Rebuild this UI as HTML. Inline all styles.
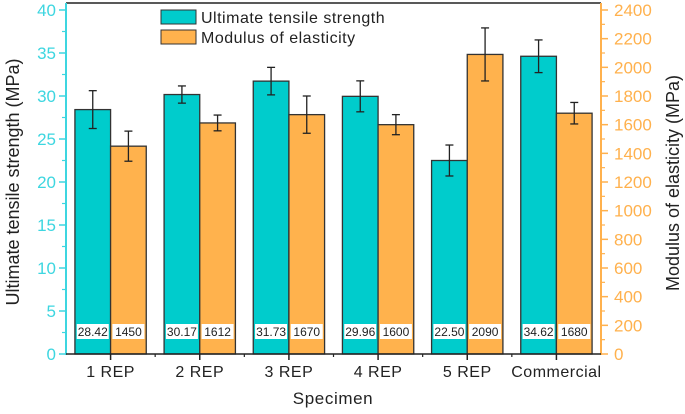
<!DOCTYPE html>
<html><head><meta charset="utf-8"><style>
body{margin:0;background:#fff}
svg text{font-family:"Liberation Sans",sans-serif}
</style></head><body>
<svg id="chart" width="685" height="409" xmlns="http://www.w3.org/2000/svg"></svg>
<script>
const categories=["1 REP","2 REP","3 REP","4 REP","5 REP","Commercial"];
const utsValues=[28.42,30.17,31.73,29.96,22.50,34.62];
const utsErrors=[2.2,1.0,1.6,1.8,1.8,1.9];
const modValues=[1450,1612,1670,1600,2090,1680];
const modErrors=[105,55,130,70,185,75];
const utsLabels=["28.42","30.17","31.73","29.96","22.50","34.62"];
const modLabels=["1450","1612","1670","1600","2090","1680"];
const leftTicks=[0,5,10,15,20,25,30,35,40];
const rightTicks=[0,200,400,600,800,1000,1200,1400,1600,1800,2000,2200,2400];

const svg=document.getElementById('chart');
const NS="http://www.w3.org/2000/svg";
const X0=66,X1=601,Y0=354,YT=10;
const yL=v=>Y0-(v/40)*(Y0-YT);
const yR=v=>Y0-(v/2400)*(Y0-YT);
const gw=(X1-X0)/categories.length;
const xc=i=>X0+gw*(i+0.5);
const bw=gw*0.4;
function mk(tag,attrs,name,parent){const e=document.createElementNS(NS,tag);for(const k in attrs)e.setAttribute(k,attrs[k]);


(parent||svg).appendChild(e);return e;}
const cyan="#3dd6e0",orange="#ffb14d";
mk('line',{x1:X0,y1:3,x2:X1,y2:3,stroke:'#222','stroke-width':1.5},'top-border');
categories.forEach((c,i)=>{
  const x=xc(i);
  mk('rect',{x:x-bw,y:yL(utsValues[i]),width:bw,height:Y0-yL(utsValues[i]),fill:'#00cccc',stroke:'#333','stroke-width':1.3},'bar-uts-'+i);
  mk('rect',{x:x,y:yR(modValues[i]),width:bw,height:Y0-yR(modValues[i]),fill:'#ffb24d',stroke:'#333','stroke-width':1.3},'bar-modulus-'+i);
  [[x-bw/2,yL(utsValues[i]+utsErrors[i]),yL(utsValues[i]-utsErrors[i]),'uts'],[x+bw/2,yR(modValues[i]+modErrors[i]),yR(modValues[i]-modErrors[i]),'modulus']].forEach(e=>{
    const g=mk('g',{stroke:'#222','stroke-width':1.3},'error-bar-'+e[3]+'-'+i);
    mk('line',{x1:e[0],y1:e[1],x2:e[0],y2:e[2]},'error-line',g);
    mk('line',{x1:e[0]-4,y1:e[1],x2:e[0]+4,y2:e[1]},'error-cap-top',g);
    mk('line',{x1:e[0]-4,y1:e[2],x2:e[0]+4,y2:e[2]},'error-cap-bottom',g);
  });
  [[x-bw/2,utsLabels[i],'uts'],[x+bw/2,modLabels[i],'modulus']].forEach(l=>{
    mk('rect',{x:l[0]-16,y:324,width:32,height:15,fill:'#fff'},'value-label-bg-'+l[2]+'-'+i);
    const t=mk('text',{x:l[0],y:336,'text-anchor':'middle','font-size':12,fill:'#222'},'value-label-'+l[2]+'-'+i);t.textContent=l[1];
  });
  mk('line',{x1:x,y1:Y0,x2:x,y2:Y0+6,stroke:'#222','stroke-width':1.5},'x-tick-'+i);
  if(i>0)mk('line',{x1:X0+gw*i,y1:Y0,x2:X0+gw*i,y2:Y0+3,stroke:'#222','stroke-width':1.2},'x-minor-tick-'+i);
  const t=mk('text',{x:x,y:377,'text-anchor':'middle','font-size':16,fill:'#222','letter-spacing':'0.5'},'x-tick-label-'+i);t.textContent=c;
});
mk('line',{x1:X0,y1:3,x2:X0,y2:Y0+1,stroke:cyan,'stroke-width':2},'left-axis-line');
mk('line',{x1:X1,y1:3,x2:X1,y2:Y0+1,stroke:orange,'stroke-width':2},'right-axis-line');
mk('line',{x1:X0,y1:Y0,x2:X1,y2:Y0,stroke:'#222','stroke-width':1.5},'x-axis-line');
leftTicks.forEach((v,i)=>{
  mk('line',{x1:X0-7,y1:yL(v),x2:X0,y2:yL(v),stroke:cyan,'stroke-width':1.5},'left-tick-'+i);
  if(i<leftTicks.length-1)mk('line',{x1:X0-4,y1:yL(v+2.5),x2:X0,y2:yL(v+2.5),stroke:cyan,'stroke-width':1.2},'left-minor-tick-'+i);
  const t=mk('text',{x:X0-10,y:yL(v)+6,'text-anchor':'end','font-size':17,fill:cyan},'left-tick-label-'+i);t.textContent=v;
});
rightTicks.forEach((v,i)=>{
  mk('line',{x1:X1,y1:yR(v),x2:X1+7,y2:yR(v),stroke:orange,'stroke-width':1.5},'right-tick-'+i);
  if(i<rightTicks.length-1)mk('line',{x1:X1,y1:yR(v+100),x2:X1+4,y2:yR(v+100),stroke:orange,'stroke-width':1.2},'right-minor-tick-'+i);
  const t=mk('text',{x:X1+13,y:yR(v)+6,'text-anchor':'start','font-size':17,fill:orange},'right-tick-label-'+i);t.textContent=v;
});
let t=mk('text',{x:333,y:404,'text-anchor':'middle','font-size':17,fill:'#222','letter-spacing':'0.6'},'x-axis-title');t.textContent="Specimen";
t=mk('text',{x:0,y:0,transform:'translate(19,182) rotate(-90)','text-anchor':'middle','font-size':18,fill:'#222'},'left-axis-title');t.textContent="Ultimate tensile strength (MPa)";
t=mk('text',{x:0,y:0,transform:'translate(679,183) rotate(-90)','text-anchor':'middle','font-size':18,fill:'#222'},'right-axis-title');t.textContent="Modulus of elasticity (MPa)";
mk('rect',{x:161,y:10,width:35,height:14,fill:'#00cccc',stroke:'#333','stroke-width':1},'legend-swatch-uts');
t=mk('text',{x:201,y:23,'font-size':16,fill:'#222','letter-spacing':'0.5'},'legend-label-uts');t.textContent="Ultimate tensile strength";
mk('rect',{x:161,y:30,width:35,height:14,fill:'#ffb24d',stroke:'#333','stroke-width':1},'legend-swatch-modulus');
t=mk('text',{x:201,y:43,'font-size':16,fill:'#222','letter-spacing':'0.5'},'legend-label-modulus');t.textContent="Modulus of elasticity";
</script>
</body></html>
